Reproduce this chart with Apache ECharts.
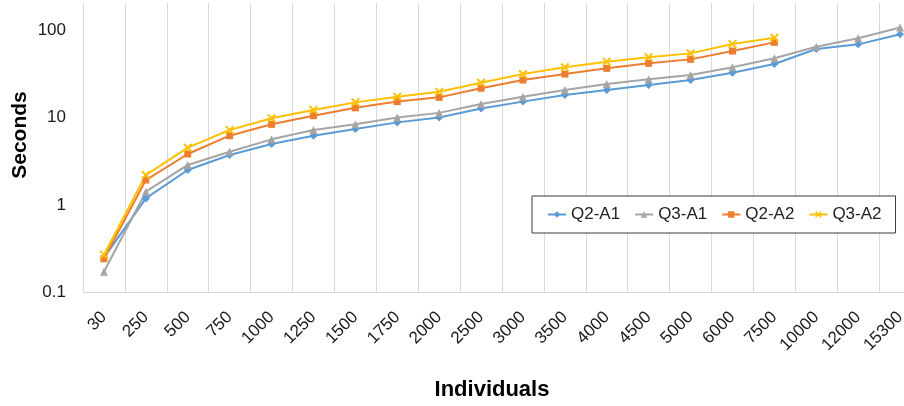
<!DOCTYPE html>
<html>
<head>
<meta charset="utf-8">
<script src="https://cdn.jsdelivr.net/npm/echarts@6/dist/echarts.min.js"></script>
<style>html,body{margin:0;padding:0;background:#fff;overflow:hidden;width:904px;height:406px;}#c{width:921px;height:406px;}</style>
</head>
<body>
<div id="c"></div>
<script>
const categories = ['30','250','500','750','1000','1250','1500','1750','2000','2500','3000','3500','4000','4500','5000','6000','7500','10000','12000','15300'];
const q2a1 = [0.25, 1.19, 2.51, 3.73, 4.98, 6.2, 7.4, 8.8, 10.0, 12.7, 15.2, 18.1, 20.6, 23.5, 26.8, 32.5, 40.9, 60.6, 68.6, 89.3];
const q3a1 = [0.173, 1.42, 2.87, 4.07, 5.63, 7.2, 8.4, 10.0, 11.3, 14.3, 17.3, 20.6, 24.1, 27.3, 30.6, 37.5, 47.5, 64.4, 80.4, 107];
const q2a2 = [0.243, 1.93, 3.83, 6.2, 8.36, 10.5, 12.9, 15.2, 17.0, 21.6, 26.8, 31.4, 36.5, 41.6, 46.2, 57.5, 72.3, null, null, null];
const q3a2 = [0.27, 2.2, 4.52, 7.2, 9.8, 12.2, 14.9, 17.3, 19.7, 25.0, 31.4, 37.5, 43.4, 48.8, 54.1, 69.2, 81.7, null, null, null];
const yTicks = [0.1, 1, 10, 100];

const font = 'Liberation Sans, Arial, sans-serif';
const X_PATH = 'path://M0,1.5L1.5,0L5,3.5L8.5,0L10,1.5L6.5,5L10,8.5L8.5,10L5,6.5L1.5,10L0,8.5L3.5,5Z';

function mk(name, data, color, symbol, size) {
  return {
    name: name, type: 'line', data: data, color: color,
    symbol: symbol, symbolSize: size, showSymbol: true,
    connectNulls: false,
    lineStyle: { width: 2, color: color },
    itemStyle: { color: color },
    emphasis: { disabled: true },
    animation: false
  };
}

const chart = echarts.init(document.getElementById('c'), null, { renderer: 'canvas' });
chart.setOption({
  animation: false,
  grid: { left: 83, right: 0, top: 3, bottom: 113.5, containLabel: false },
  legend: {
    left: 532, top: 196,
    padding: [10, 14, 10, 15],
    itemGap: 14, itemWidth: 18, itemHeight: 8,
    borderColor: '#3a3a3a', borderWidth: 1,
    backgroundColor: '#fff',
    textStyle: { fontFamily: font, fontSize: 17, color: '#222' },
    data: ['Q2-A1', 'Q3-A1', 'Q2-A2', 'Q3-A2']
  },
  xAxis: {
    type: 'category', data: categories, boundaryGap: true,
    axisLine: { show: true, lineStyle: { color: '#d9d9d9', width: 1 } },
    axisTick: { show: false },
    splitLine: { show: true, lineStyle: { color: '#d9d9d9', width: 1 } },
    axisLabel: { rotate: 45, margin: 22, fontFamily: font, fontSize: 17, color: '#1a1a1a', interval: 0 }
  },
  yAxis: {
    type: 'log', logBase: 10, min: 0.1, max: 203.7,
    axisLine: { show: false }, axisTick: { show: false },
    splitLine: { show: false },
    axisLabel: {
      margin: 17, fontFamily: font, fontSize: 17, color: '#1a1a1a',
      showMinLabel: true, showMaxLabel: false,
      formatter: function (v) {
        for (const t of yTicks) { if (Math.abs(v - t) / t < 1e-6) return String(t); }
        return '';
      }
    }
  },
  graphic: [
    { type: 'text', x: 20, y: 135, rotation: Math.PI / 2,
      style: { text: 'Seconds', font: 'bold 21px ' + font, fill: '#000', align: 'center', verticalAlign: 'middle' } },
    { type: 'text', x: 492, y: 390,
      style: { text: 'Individuals', font: 'bold 22px ' + font, fill: '#000', align: 'center', verticalAlign: 'middle' } }
  ],
  series: [
    mk('Q2-A1', q2a1, '#5B9BD5', 'diamond', 8),
    mk('Q3-A1', q3a1, '#A5A5A5', 'triangle', 8),
    mk('Q2-A2', q2a2, '#ED7D31', 'rect', 7),
    mk('Q3-A2', q3a2, '#FFC000', X_PATH, 9)
  ]
});
</script>
</body>
</html>
